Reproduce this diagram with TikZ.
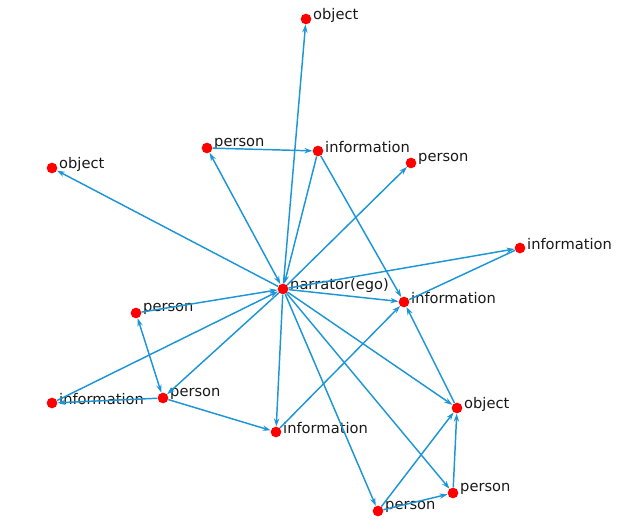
\documentclass[tikz,border=0pt]{standalone}
\usepackage{fontspec}
\setmainfont{DejaVu Sans}
\usepackage{xcolor}
\usetikzlibrary{arrows.meta}
\definecolor{cedge}{RGB}{28,150,214}
\definecolor{cnode}{RGB}{255,0,0}

\begin{document}
\begin{tikzpicture}[
  x=0.75pt, y=-0.75pt,
  dot/.style  = {circle, fill=cnode, inner sep=0pt, minimum size=8pt},
  lbl/.style  = {font=\fontsize{11}{13}\selectfont, inner sep=1pt, yshift=3pt, text=black!90},
  arr/.style  = {-{Stealth[length=6pt,width=4pt]}, line width=1.1pt, cedge},
  both/.style = {{Stealth[length=6pt,width=4pt]}-{Stealth[length=6pt,width=4pt]}, line width=1.1pt, cedge},
  plain/.style= {line width=1.1pt, cedge},
]
\useasboundingbox (0,0) rectangle (642,528);
% centre
\node[dot, label={[lbl]0:narrator(ego)}] (ego)    at (283,289) {};
% upper ring
\node[dot, label={[lbl]0:object}]        (objT)   at (306,19)  {};
\node[dot, label={[lbl]0:object}]        (objL)   at (52,168)  {};
\node[dot, label={[lbl]0:person}]        (perT)   at (207,148) {};
\node[dot, label={[lbl]0:information}]   (infT)   at (318,151) {};
\node[dot, label={[lbl]0:person}]        (perTR)  at (411,163) {};
\node[dot, label={[lbl]0:information}]   (infR)   at (520,248) {};
\node[dot, label={[lbl]0:information}]   (infM)   at (404,302) {};
% left group
\node[dot, label={[lbl]0:person}]        (perL)   at (136,313) {};
\node[dot, label={[lbl]0:information}]   (infL)   at (52,403)  {};
\node[dot, label={[lbl]0:person}]        (perLo)  at (163,398) {};
% lower group
\node[dot, label={[lbl]0:information}]   (infB)   at (276,432) {};
\node[dot, label={[lbl]0:object}]        (objR)   at (457,408) {};
\node[dot, label={[lbl]0:person}]        (perBR)  at (453,493) {};
\node[dot, label={[lbl]0:person}]        (perB)   at (378,511) {};
% Arrows from/to the narrator
\draw[arr]  (ego) -- (objT);
\draw[arr]  (ego) -- (objL);
\draw[both] (ego) -- (perT);
\draw[arr]  (infT) -- (ego);
\draw[arr]  (ego) -- (perTR);
\draw[arr]  (ego) -- (infR);
\draw[arr]  (ego) -- (infM);
\draw[arr]  (perL) -- (ego);
\draw[arr]  (infL) -- (ego);
\draw[arr]  (ego) -- (perLo);
\draw[arr]  (ego) -- (infB);
\draw[arr]  (ego) -- (objR);
\draw[arr]  (ego) -- (perBR);
\draw[arr]  (ego) -- (perB);
% Other arrows
\draw[arr]  (perT) -- (infT);
\draw[arr]  (infT) -- (infM);
\draw[plain] (infM) -- (infR);
\draw[both] (perL) -- (perLo);
\draw[arr]  (perLo) -- (infL);
\draw[arr]  (perLo) -- (infB);
\draw[arr]  (infB) -- (infM);
\draw[arr]  (objR) -- (infM);
\draw[arr]  (perB) -- (perBR);
\draw[arr]  (perB) -- (objR);
\draw[arr]  (perBR) -- (objR);
\end{tikzpicture}
\end{document}
